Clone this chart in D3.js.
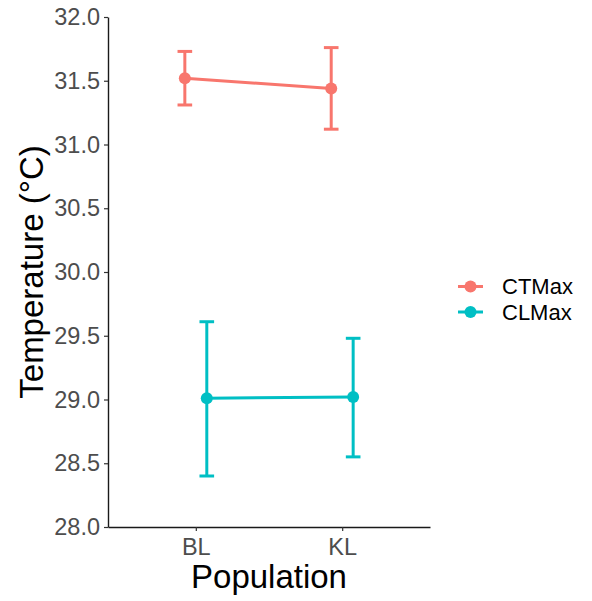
<!DOCTYPE html>
<html>
<head>
<meta charset="utf-8">
<script src="https://cdn.jsdelivr.net/npm/d3@7"></script>
<style>
  html, body { margin: 0; padding: 0; background: #fff; }
  svg { display: block; font-family: "Liberation Sans", Arial, sans-serif; }
</style>
</head>
<body>
<svg id="chart" width="592" height="601"></svg>
<script>
// Thermal limits by population: mean with error bars
const populations = ["BL", "KL"];
const seriesNames = ["CTMax", "CLMax"];
const seriesColors = ["#F8766D", "#00BFC4"];
const ctmaxMean = [31.52, 31.44];
const ctmaxLow  = [31.31, 31.12];
const ctmaxHigh = [31.73, 31.76];
const clmaxMean = [29.01, 29.02];
const clmaxLow  = [28.40, 28.55];
const clmaxHigh = [29.61, 29.48];
const yTicks = [28.0, 28.5, 29.0, 29.5, 30.0, 30.5, 31.0, 31.5, 32.0];

const series = [
  { name: seriesNames[0], color: seriesColors[0], mean: ctmaxMean, low: ctmaxLow, high: ctmaxHigh },
  { name: seriesNames[1], color: seriesColors[1], mean: clmaxMean, low: clmaxLow, high: clmaxHigh }
];

const svg = d3.select("#chart");
const panel = { left: 108, right: 430, top: 17, bottom: 527 };

// discrete x positions as numeric units 1..n with 0.6 expansion
const x = d3.scaleLinear().domain([0.4, populations.length + 0.6]).range([panel.left, panel.right]);
const y = d3.scaleLinear().domain([28, 32]).range([panel.bottom, panel.top]);
const dodge = [-0.075, 0.075];
const capHalf = 0.05;

const g = svg.append("g");

series.forEach((s, si) => {
  const pts = populations.map((p, i) => ({
    xv: i + 1 + dodge[si], m: s.mean[i], lo: s.low[i], hi: s.high[i]
  }));
  // error bars
  const eb = g.append("g").attr("stroke", s.color).attr("stroke-width", 3).attr("fill", "none");
  pts.forEach(d => {
    eb.append("line").attr("x1", x(d.xv)).attr("x2", x(d.xv)).attr("y1", y(d.lo)).attr("y2", y(d.hi));
    eb.append("line").attr("x1", x(d.xv - capHalf)).attr("x2", x(d.xv + capHalf)).attr("y1", y(d.lo)).attr("y2", y(d.lo));
    eb.append("line").attr("x1", x(d.xv - capHalf)).attr("x2", x(d.xv + capHalf)).attr("y1", y(d.hi)).attr("y2", y(d.hi));
  });
  // connecting line
  g.append("path")
    .datum(pts)
    .attr("fill", "none")
    .attr("stroke", s.color)
    .attr("stroke-width", 3)
    .attr("d", d3.line().x(d => x(d.xv)).y(d => y(d.m)));
  // points
  g.selectAll(null).data(pts).enter().append("circle")
    .attr("cx", d => x(d.xv)).attr("cy", d => y(d.m)).attr("r", 6)
    .attr("fill", s.color);
});

// y axis
const yAxis = svg.append("g").attr("transform", `translate(${panel.left},0)`)
  .call(d3.axisLeft(y).tickValues(yTicks).tickFormat(d3.format(".1f")).tickSize(4).tickSizeOuter(0));
yAxis.select(".domain").attr("stroke", "#1a1a1a").attr("stroke-width", 1.4);
yAxis.selectAll(".tick line").attr("stroke", "#333").attr("stroke-width", 1.2);
yAxis.selectAll(".tick text").attr("fill", "#4d4d4d").attr("font-size", 23.5).attr("x", -8)
  .attr("font-family", "Liberation Sans, Arial, sans-serif");

// x axis
const xAxis = svg.append("g").attr("transform", `translate(0,${panel.bottom})`)
  .call(d3.axisBottom(x).tickValues(populations.map((p, i) => i + 1))
    .tickFormat((d, i) => populations[i]).tickSize(4).tickSizeOuter(0));
xAxis.select(".domain").attr("stroke", "#1a1a1a").attr("stroke-width", 1.4);
xAxis.selectAll(".tick line").attr("stroke", "#333").attr("stroke-width", 1.2);
xAxis.selectAll(".tick text").attr("fill", "#4d4d4d").attr("font-size", 23.5)
  .attr("y", 28).attr("dy", 0)
  .attr("font-family", "Liberation Sans, Arial, sans-serif");

// axis titles
svg.append("text").attr("x", (panel.left + panel.right) / 2).attr("y", 588)
  .attr("text-anchor", "middle").attr("font-size", 33).attr("fill", "#000").text("Population");
svg.append("text").attr("transform", `translate(43,${(panel.top + panel.bottom) / 2}) rotate(-90)`)
  .attr("text-anchor", "middle").attr("font-size", 33).attr("fill", "#000").text("Temperature (°C)");

// legend
const legend = svg.append("g").attr("transform", "translate(458,286.5)");
series.forEach((s, i) => {
  const row = legend.append("g").attr("transform", `translate(0,${i * 25.5})`);
  row.append("line").attr("x1", 0).attr("x2", 25).attr("y1", 0).attr("y2", 0)
    .attr("stroke", s.color).attr("stroke-width", 3);
  row.append("circle").attr("cx", 12.5).attr("cy", 0).attr("r", 6).attr("fill", s.color);
  row.append("text").attr("x", 44).attr("y", 0).attr("dy", "0.36em")
    .attr("font-size", 22).attr("fill", "#000").text(s.name);
});
</script>
</body>
</html>
